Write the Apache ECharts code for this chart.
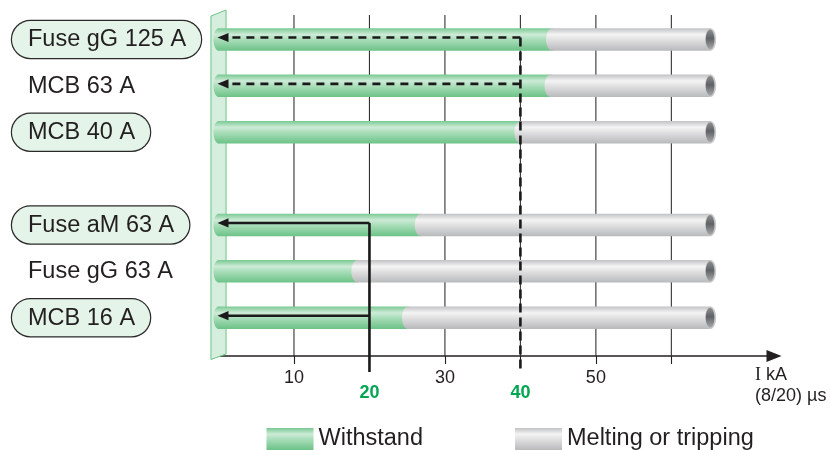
<!DOCTYPE html>
<html><head><meta charset="utf-8">
<script src="https://cdn.jsdelivr.net/npm/echarts@6/dist/echarts.min.js"></script>
<style>html,body{margin:0;padding:0;background:#fff}#c{width:830px;height:450px}</style>
</head><body><div id="c"></div>
<script>
// ---- data ----
const categories = ['Fuse gG 125 A', 'MCB 63 A', 'MCB 40 A', '', 'Fuse aM 63 A', 'Fuse gG 63 A', 'MCB 16 A'];
const boxed      = [true, false, true, false, true, false, true];
const withstand  = [44.2, 44, 40, null, 26.8, 18.4, 25.1];   // kA withstood
const tubeEnd    = [65.2, 65.2, 65.2, null, 65.2, 65.2, 65.2]; // end of melting/tripping range
const xTicks     = [10, 20, 30, 40, 50, 60];
const xTickLabels = [10, 20, 30, 40, 50];
const limits     = [40, 20];          // kA reference currents
const limitRows  = [[0, 1], [4, 6]];  // rows pointed to by each reference
const limitDashed = [true, false];

// ---- styling ----
const FONT = '"Liberation Sans", Arial, Helvetica, sans-serif';
const INK = '#231f20';
const BAR_H = 22.5;
const LG = (stops, h) => new echarts.graphic.LinearGradient(0, 0, h ? 1 : 0, h ? 0 : 1, stops.map((c, i) => ({offset: c[0], color: c[1]})));
const greenStops = [[0, '#79c992'], [0.28, '#cdebd7'], [0.5, '#aadeba'], [1, '#6cc287']];
const grayStops  = [[0, '#c1c2c4'], [0.28, '#f4f4f4'], [0.5, '#e1e1e2'], [1, '#b8b9bb']];

const slots = categories.map((c, i) => i).filter(i => categories[i] !== '');
const barData = slots.map(i => [i, withstand[i], tubeEnd[i]]);

function greenItem(params, api) {
  const s = api.value(0), w = api.value(1);
  const a = api.coord([0, s]), b = api.coord([w, s]);
  return {type: 'group', children: [
    {type: 'rect', shape: {x: a[0], y: a[1] - BAR_H / 2, width: b[0] - a[0], height: BAR_H}, style: {fill: LG(greenStops)}},
    {type: 'ellipse', shape: {cx: a[0], cy: a[1], rx: 5, ry: BAR_H / 2}, style: {fill: LG(greenStops)}}
  ]};
}
function grayItem(params, api) {
  const s = api.value(0), w = api.value(1), e = api.value(2);
  const b = api.coord([w, s]), c = api.coord([e, s]);
  return {type: 'group', children: [
    {type: 'rect', shape: {x: b[0], y: b[1] - BAR_H / 2, width: c[0] - b[0], height: BAR_H}, style: {fill: LG(grayStops)}},
    {type: 'ellipse', shape: {cx: b[0], cy: b[1], rx: 6, ry: BAR_H / 2}, style: {fill: LG(grayStops)}},
    {type: 'ellipse', shape: {cx: c[0], cy: c[1], rx: 5.5, ry: BAR_H / 2}, style: {fill: '#c9c9cb'}},
    {type: 'ellipse', shape: {cx: c[0] - 0.5, cy: c[1], rx: 4.3, ry: BAR_H / 2 - 1.2},
      style: {fill: LG([[0, '#8e8f91'], [0.45, '#616265'], [1, '#a9aaac']])}}
  ]};
}
function gridItem(params, api) {
  const cs = params.coordSys;
  const x = api.coord([api.value(0), 0])[0];
  return {type: 'line', shape: {x1: x, y1: cs.y, x2: x, y2: cs.y + cs.height}, style: {stroke: '#333', lineWidth: 1.1}};
}
function wallItem(params, api) {
  const cs = params.coordSys;
  const xl = api.coord([-1, 0])[0], xr = api.coord([1, 0])[0];
  const top = cs.y, bot = cs.y + cs.height;
  return {type: 'polygon', shape: {points: [[xl, top + 1], [xr, top - 5], [xr, bot - 2], [xl, bot + 3.5]]},
    style: {fill: '#d5eedd', stroke: '#6cc488', lineWidth: 1}};
}
function arrowItem(params, api) {
  const cs = params.coordSys;
  const k = params.dataIndex;
  const v = api.value(0);
  const rows = limitRows[k];
  const dash = limitDashed[k] ? [8, 6] : null;
  const st = {stroke: '#1a1a1a', lineWidth: 2.6, lineDash: dash};
  const children = [];
  const yTop = api.coord([v, rows[0]])[1] - 2;
  const x = api.coord([v, 0])[0];
  children.push({type: 'line', shape: {x1: x, y1: yTop, x2: x, y2: cs.y + cs.height + 16}, style: Object.assign({}, st, {lineDash: dash ? [9, 5] : null})});
  rows.forEach(r => {
    const p = api.coord([v, r]);
    const tip = api.coord([0, r])[0] - 1;
    const y = p[1] - 2;
    children.push({type: 'line', shape: {x1: x, y1: y, x2: tip + 8, y2: y}, style: st});
    children.push({type: 'polygon', shape: {points: [[tip, y], [tip + 11, y - 4.6], [tip + 11, y + 4.6]]}, style: {fill: '#1a1a1a'}});
  });
  return {type: 'group', children};
}

const chart = echarts.init(document.getElementById('c'), null, {renderer: 'canvas'});
const legendBase = {orient: 'horizontal', top: 427, padding: 0, itemWidth: 47, itemHeight: 22, icon: 'rect', selectedMode: false,
  itemGap: 5, textStyle: {fontFamily: FONT, fontSize: 23.5, color: INK, padding: [0, 0, 0, 0]}};
chart.setOption({
  animation: false,
  textStyle: {fontFamily: FONT},
  grid: {left: 218.5, right: 56, top: 15, bottom: 94},
  legend: [
    Object.assign({}, legendBase, {left: 266.5, data: ['Withstand']}),
    Object.assign({}, legendBase, {left: 515, data: ['Melting or tripping']})
  ],
  xAxis: {
    type: 'value', min: 0, max: 73.6, position: 'bottom',
    name: '{i|I} kA\n(8/20) µs', nameLocation: 'end', nameGap: -19,
    nameTextStyle: {align: 'left', verticalAlign: 'top', fontFamily: FONT, fontSize: 18, lineHeight: 21, color: INK, padding: [9, 0, 0, 0],
      rich: {i: {fontFamily: '"Liberation Serif", "Times New Roman", serif', fontSize: 18, color: INK}}},
    axisLine: {show: true, onZero: false, lineStyle: {color: INK, width: 1.7}, symbol: ['none', 'triangle'], symbolSize: [12, 15]},
    axisTick: {show: true, customValues: xTicks, length: 8, lineStyle: {color: INK, width: 1.1}},
    axisLabel: {customValues: xTickLabels, margin: 13,
      formatter: v => limits.includes(v) ? '{g|' + v + '}' : '{n|' + v + '}',
      rich: {n: {fontFamily: FONT, fontSize: 18, color: INK},
             g: {fontFamily: FONT, fontSize: 18, fontWeight: 'bold', color: '#00a651', padding: [15, 0, 0, 0]}}},
    splitLine: {show: false}
  },
  yAxis: {
    type: 'value', inverse: true, min: -0.528, max: 6.826,
    axisLine: {show: false, onZero: false}, axisTick: {show: false}, splitLine: {show: false},
    axisLabel: {customValues: slots, align: 'left', margin: 206.5,
      formatter: v => (boxed[v] ? '{b|' : '{p|') + categories[v] + '}',
      rich: {
        b: {fontFamily: FONT, fontSize: 23.5, color: INK, backgroundColor: '#e4f4e8', borderColor: '#2a2a2a', borderWidth: 1.2,
            borderRadius: 19, padding: [7, 15, 6, 16]},
        p: {fontFamily: FONT, fontSize: 23.5, color: INK, padding: [7, 15, 6, 16]}
      }}
  },
  series: [
    {type: 'custom', name: 'grid', z: 1, silent: true, data: xTicks.map(v => [v]), encode: {x: 0}, renderItem: gridItem},
    {type: 'custom', name: 'wall', z: 2, silent: true, data: [[0]], encode: {x: 0}, renderItem: wallItem},
    {type: 'custom', name: 'Withstand', z: 3, silent: true, data: barData, encode: {x: [1], y: 0}, renderItem: greenItem,
      itemStyle: {color: LG(greenStops)}},
    {type: 'custom', name: 'Melting or tripping', z: 4, silent: true, data: barData, encode: {x: [1, 2], y: 0}, renderItem: grayItem,
      itemStyle: {color: LG(grayStops)}},
    {type: 'custom', name: 'limits', z: 5, silent: true, data: limits.map(v => [v]), encode: {x: 0}, renderItem: arrowItem}
  ]
});
</script></body></html>
